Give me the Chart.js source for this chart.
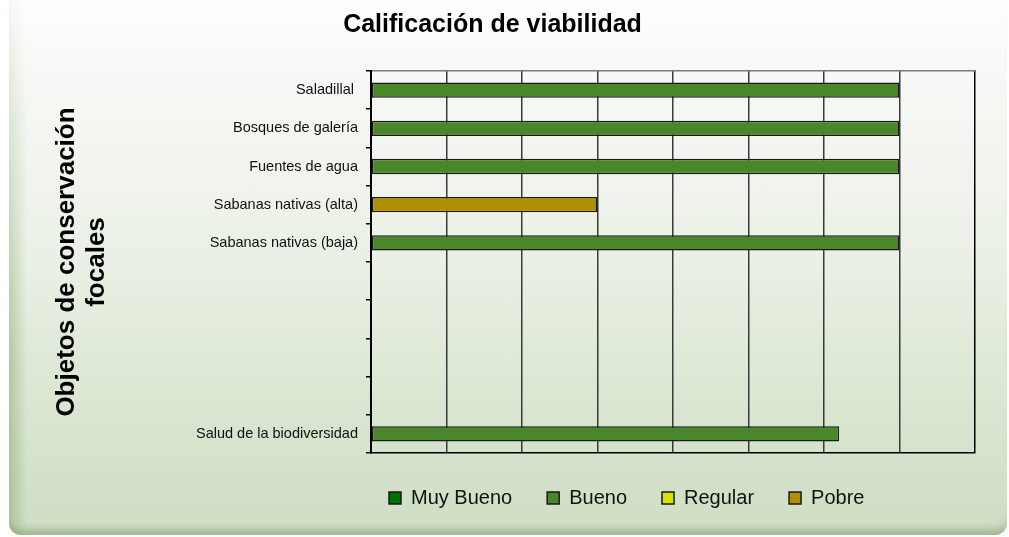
<!DOCTYPE html>
<html>
<head>
<meta charset="utf-8">
<script src="https://cdn.jsdelivr.net/npm/chart.js@4.4.1/dist/chart.umd.min.js"></script>
<style>
  html, body { margin: 0; padding: 0; background: #ffffff; overflow: hidden; }
  #frame {
    position: absolute; left: 9px; top: -40px; width: 998px; height: 575px;
    border-radius: 12px; overflow: hidden;
    background: linear-gradient(180deg, #ffffff 0%, #fdfdfc 10%, #f5f7f3 25%, #ebf1e7 50%, #dde8d5 72%, #d3e1ca 90%, #cfdec5 100%);
    box-shadow: inset 0 -12px 9px -7px rgba(120,150,100,0.6);
  }
  /* left edge shading, fades out toward the top */
  #frame::before {
    content: ""; position: absolute; left: 0; top: 0; width: 18px; height: 100%;
    background: linear-gradient(90deg, rgba(140,175,120,0.55), rgba(140,175,120,0));
    -webkit-mask-image: linear-gradient(180deg, transparent 0%, rgba(0,0,0,0.3) 20%, #000 70%);
    mask-image: linear-gradient(180deg, transparent 0%, rgba(0,0,0,0.3) 20%, #000 70%);
  }
  #wrap { position: absolute; left: 0; top: 0; width: 1009px; height: 537px; }
</style>
</head>
<body>
<div id="frame"></div>
<div id="wrap"><canvas id="chart"></canvas></div>
<script>
// categories, top to bottom (blank rows kept as in the original)
const categories = [
  "Saladillal ", "Bosques de galería", "Fuentes de agua",
  "Sabanas nativas (alta)", "Sabanas nativas (baja)",
  "", "", "", "", "Salud de la biodiversidad"
];

// one series per rating, only one value per row
const muyBueno = [null, null, null, null, null, null, null, null, null, null];
const bueno    = [3.5, 3.5, 3.5, null, 3.5, null, null, null, null, 3.1];
const regular  = [null, null, null, null, null, null, null, null, null, null];
const pobre    = [null, null, null, 1.5, null, null, null, null, null, null];

const FONT = "'Liberation Sans', Arial, sans-serif";

function bar(label, data, color) {
  return {
    label, data,
    backgroundColor: color,
    borderColor: "#1a1a1a",
    borderWidth: 1.5,
    borderSkipped: false,
    barPercentage: 0.4,
    categoryPercentage: 1.0
  };
}

// move the legend row to where the reference has it
const legendShift = {
  id: "legendShift",
  afterLayout(chart) {
    if (chart.legend) chart.legend.left = 354;
  }
};

new Chart(document.getElementById("chart"), {
  type: "bar",
  data: {
    labels: categories,
    datasets: [
      bar("Muy Bueno", muyBueno, "#007000"),
      bar("Bueno", bueno, "#4a862a"),
      bar("Regular", regular, "#d8e000"),
      bar("Pobre", pobre, "#b09000")
    ]
  },
  plugins: [legendShift],
  options: {
    indexAxis: "y",
    responsive: true,
    maintainAspectRatio: false,
    animation: false,
    layout: { padding: { left: 10, right: 34, top: 0, bottom: 19 } },
    plugins: {
      title: {
        display: true,
        text: "Calificación de viabilidad",
        color: "#000",
        font: { family: FONT, size: 25, weight: "bold" },
        padding: { top: 10, bottom: 31 }
      },
      legend: {
        position: "bottom",
        align: "start",
        labels: {
          color: "#111",
          font: { family: FONT, size: 20 },
          boxWidth: 12,
          boxHeight: 12,
          padding: 35
        }
      },
      tooltip: { enabled: false }
    },
    scales: {
      x: {
        stacked: true,
        min: 0,
        max: 4,
        ticks: { display: false, stepSize: 0.5 },
        grid: {
          drawTicks: false,
          lineWidth: 1.5,
          color: c => (c.tick && c.tick.value === 4 ? "#000" : "#3a3a3a")
        },
        border: { display: true, color: "#000", width: 1.5 }
      },
      x2: {
        type: "linear",
        position: "top",
        min: 0,
        max: 4,
        ticks: { display: false },
        grid: { display: false, drawTicks: false },
        border: { display: true, color: "#7a7a7a", width: 1.5 }
      },
      y: {
        stacked: true,
        afterFit: s => { s.width = 361; },
        ticks: {
          color: "#111",
          font: { family: FONT, size: 14.5 },
          padding: 8
        },
        grid: {
          drawOnChartArea: false,
          drawTicks: true,
          tickLength: 5,
          color: "#000",
          lineWidth: 1.5
        },
        border: { display: true, color: "#000", width: 2 },
        title: {
          display: true,
          text: ["Objetos de conservación", "focales"],
          color: "#000",
          font: { family: FONT, size: 26, weight: "bold", lineHeight: 30 / 26 },
          padding: { top: 42, bottom: 10 }
        }
      }
    }
  }
});
</script>
</body>
</html>
